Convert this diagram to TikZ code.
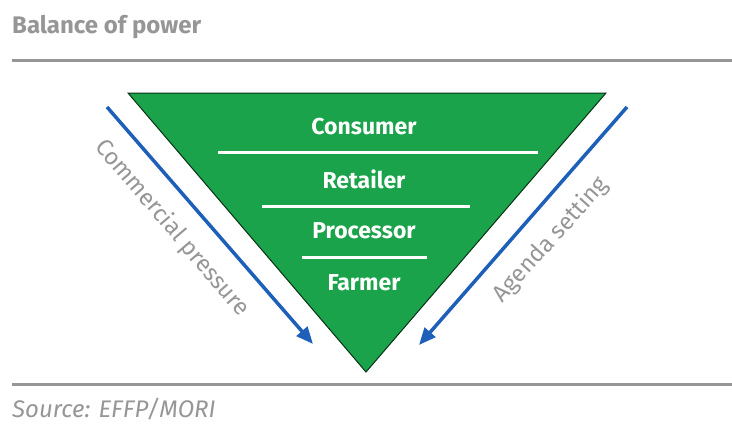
\documentclass[tikz,border=0pt]{standalone}
\usepackage{fontspec}
\setmainfont{Fira Sans}
\usetikzlibrary{arrows.meta}
\definecolor{pyrgreen}{RGB}{26,163,74}
\definecolor{rulegray}{RGB}{150,150,150}
\definecolor{labelgray}{RGB}{150,150,150}
\definecolor{arrowblue}{RGB}{30,96,185}
\tikzset{
  rulebar/.style={draw=rulegray, line width=3pt},
  tierline/.style={draw=white, line width=3pt},
  tiertext/.style={text=white, font=\fontsize{23}{26}\selectfont\bfseries, inner sep=0pt},
  sidelabel/.style={text=labelgray, font=\fontsize{23.5}{26}\selectfont, inner sep=0pt},
  force/.style={draw=arrowblue, line width=3.5pt, -{Triangle[length=17pt,width=14pt]}},
}
\begin{document}
\begin{tikzpicture}[x=1pt,y=-1pt]
\useasboundingbox (0,0) rectangle (732,429);
% title and rules
\node[anchor=base west, text=labelgray, font=\fontsize{24}{27}\selectfont\bfseries, inner sep=0pt] (title) at (12,33) {Balance of power};
\coordinate (r1a) at (12,60); \coordinate (r1b) at (732,60);
\coordinate (r2a) at (12,384); \coordinate (r2b) at (732,384);
\draw[rulebar] (r1a) -- (r1b);
\draw[rulebar] (r2a) -- (r2b);
\node[anchor=base west, text=labelgray, font=\fontsize{24}{27}\selectfont\itshape, inner sep=0pt] (source) at (12,417) {Source: EFFP/MORI};
% inverted pyramid
\coordinate (tl) at (128,93); \coordinate (tr) at (606,93); \coordinate (apex) at (366,372);
\fill[pyrgreen, draw=black!70!pyrgreen, line width=1pt] (tl) -- (tr) -- (apex) -- cycle;
\node[tiertext] (consumer) at (364,127) {Consumer};
\node[tiertext] (retailer) at (364,179) {Retailer};
\node[tiertext] (processor) at (364,231) {Processor};
\node[tiertext] (farmer) at (364,283) {Farmer};
\coordinate (l1a) at (218,152); \coordinate (l1b) at (538,152);
\coordinate (l2a) at (262,206); \coordinate (l2b) at (470,206);
\coordinate (l3a) at (302,257); \coordinate (l3b) at (427,257);
\draw[tierline] (l1a) -- (l1b);
\draw[tierline] (l2a) -- (l2b);
\draw[tierline] (l3a) -- (l3b);
% side forces
\coordinate (la) at (107,107); \coordinate (lb) at (313,344);
\coordinate (ra) at (627,107); \coordinate (rb) at (419,345);
\draw[force] (la) -- (lb);
\draw[force] (ra) -- (rb);
\node[sidelabel, rotate=-49.5] (commercial) at (172,228) {Commercial pressure};
\node[sidelabel, rotate=48] (agenda) at (551,240) {Agenda setting};
\end{tikzpicture}
\end{document}
